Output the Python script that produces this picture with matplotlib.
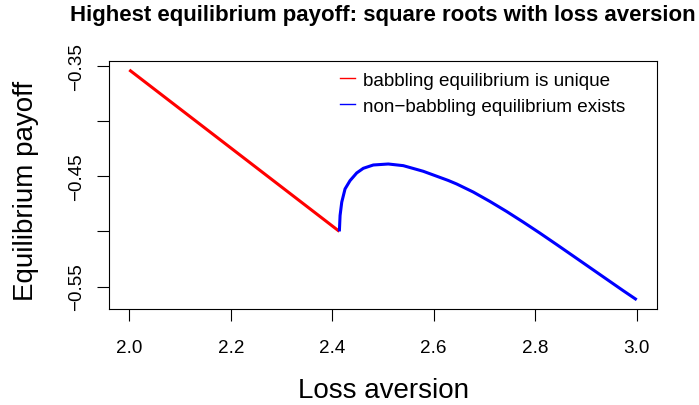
import matplotlib
matplotlib.use("Agg")
import matplotlib.pyplot as plt
from matplotlib.lines import Line2D

plt.rcParams['font.family'] = ['Liberation Sans', 'DejaVu Sans']

# values
babbling_x = [2.0, 2.414]
babbling_y = [-0.3536, -0.5000]

nonbabbling_x = [2.414, 2.4154, 2.4187, 2.4252, 2.4350, 2.4482, 2.4612, 2.4809,
                 2.5104, 2.5400, 2.5793, 2.6285, 2.6451, 2.6778, 2.7106, 2.7435,
                 2.7762, 2.8091, 2.8419, 2.8746, 2.9075, 2.9404, 2.9730, 3.0]
nonbabbling_y = [-0.5000, -0.4856, -0.4735, -0.4615, -0.4540, -0.4470, -0.4428, -0.4398,
                 -0.4389, -0.4404, -0.4455, -0.4538, -0.4570, -0.4643, -0.4728, -0.4819,
                 -0.4915, -0.5015, -0.5118, -0.5222, -0.5327, -0.5432, -0.5536, -0.5620]

x_ticks = [2.0, 2.2, 2.4, 2.6, 2.8, 3.0]
x_tick_labels = ['2.0', '2.2', '2.4', '2.6', '2.8', '3.0']
y_ticks = [-0.35, -0.45, -0.55]
y_tick_labels = ['\u22120.35', '\u22120.45', '\u22120.55']
y_minor = [-0.40, -0.50]

legend_labels = ['babbling equilibrium is unique', 'non\u2212babbling equilibrium exists']

fig = plt.figure(figsize=(6.99, 4.06), dpi=100)
ax = fig.add_axes([109 / 699, 1 - 310 / 406, 548 / 699, 248.3 / 406])

ax.plot(babbling_x, babbling_y, color='#FF0000', lw=2.2, solid_capstyle='butt')
ax.plot(nonbabbling_x, nonbabbling_y, color='#0000FF', lw=2.2, solid_capstyle='butt',
        solid_joinstyle='round')
ax.margins(0.04)

# R-style axes: box, outward ticks
for s in ax.spines.values():
    s.set_linewidth(0.8)
ax.set_xticks(x_ticks)
ax.set_xticklabels(x_tick_labels)
ax.set_yticks(y_ticks + y_minor)
ax.set_yticklabels(y_tick_labels + ['', ''])
ax.tick_params(axis='both', direction='out', length=8.4, width=0.8, labelsize=13.6)
ax.tick_params(axis='x', pad=22.3)
ax.tick_params(axis='y', pad=11.7)
for lbl in ax.get_xticklabels():
    lbl.set_va('baseline')
for lbl in ax.get_yticklabels():
    lbl.set_rotation(90)
    lbl.set_rotation_mode('anchor')
    lbl.set_ha('center')
    lbl.set_va('baseline')

ax.set_xlabel('Loss aversion', fontsize=20, va='baseline')
ax.xaxis.set_label_coords(0.5, -(397.7 - 310) / 248.3)
ax.set_ylabel('Equilibrium payoff', fontsize=20, rotation=90, rotation_mode='anchor',
              ha='center', va='baseline')
ax.yaxis.set_label_coords(-(109 - 33) / 548, 0.48)

ax.set_title('Highest equilibrium payoff: square roots with loss aversion',
             fontsize=16, fontweight='bold', pad=29.5)

handles = [Line2D([], [], color='#FF0000', lw=1.0),
           Line2D([], [], color='#0000FF', lw=1.0)]
ax.legend(handles, legend_labels, loc='upper left', bbox_to_anchor=(0.4215, 0.956),
          frameon=False, fontsize=13.6, borderpad=0, borderaxespad=0,
          handlelength=0.78, handletextpad=0.43, labelspacing=0.46)

fig.savefig('out.png', dpi=100)
